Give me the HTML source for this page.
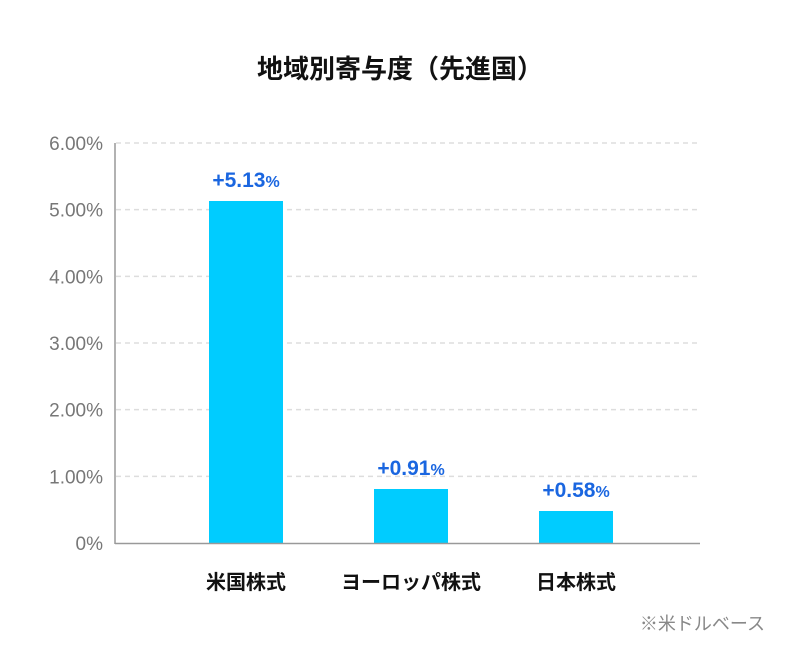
<!DOCTYPE html>
<html><head><meta charset="utf-8"><style>
body{margin:0;background:#fff;}
svg text{font-family:"Liberation Sans","Noto Sans CJK JP",sans-serif;}
</style></head><body>
<svg width="800" height="660">
<text x="400" y="78" text-anchor="middle" font-size="26" font-weight="bold" fill="#111">地域別寄与度（先進国）</text>
<g id="grid"></g><g id="bars"></g>
<line x1="115" y1="143" x2="115" y2="544" stroke="#999" stroke-width="1.5"/>
<line x1="115" y1="543.5" x2="700" y2="543.5" stroke="#999" stroke-width="1.5"/>
<text x="765" y="630" text-anchor="end" font-size="18" fill="#888">※米ドルベース</text>
</svg>
<script>
const categories=["米国株式","ヨーロッパ株式","日本株式"];
const values=[5.13,0.81,0.48];
const valueLabels=["+5.13","+0.91","+0.58"];
const yTicks=[0,1,2,3,4,5,6];
const yTickLabels=["0%","1.00%","2.00%","3.00%","4.00%","5.00%","6.00%"];
const NS="http://www.w3.org/2000/svg";
const y0=543,yMax=6,plotH=400,left=163.5,step=165,bw=74;
const y=v=>y0-v/yMax*plotH;
const x=i=>left+step*i+step/2;
function mk(t,a,p){const e=document.createElementNS(NS,t);for(const k in a)e.setAttribute(k,a[k]);p.appendChild(e);return e;}
const grid=document.getElementById('grid'),bars=document.getElementById('bars');
yTicks.forEach((t,i)=>{
  if(t>0){const l=mk('line',{x1:116,x2:700,y1:y(t),y2:y(t),stroke:'#ddd','stroke-width':1.5,'stroke-dasharray':'5,4'},grid);
  
  }
  const tx=mk('text',{x:103,y:y(t)+7,'text-anchor':'end','font-size':19,fill:'#777'},grid);
  tx.textContent=yTickLabels[i];
  
  
});
categories.forEach((c,i)=>{
  const r=mk('rect',{x:x(i)-bw/2,y:y(values[i]),width:bw,height:y0-y(values[i]),fill:'#00ccff'},bars);
  
  
  const lb=mk('text',{x:x(i),y:y(values[i])-14,'text-anchor':'middle','font-size':21,'font-weight':'bold',fill:'#1a66e0'},bars);
  lb.innerHTML=valueLabels[i]+'<tspan font-size="16">%</tspan>';
  
  
  const cl=mk('text',{x:x(i),y:589,'text-anchor':'middle','font-size':20,'font-weight':'bold',fill:'#111'},bars);
  cl.textContent=c;
  
  
});
</script>
</body></html>
